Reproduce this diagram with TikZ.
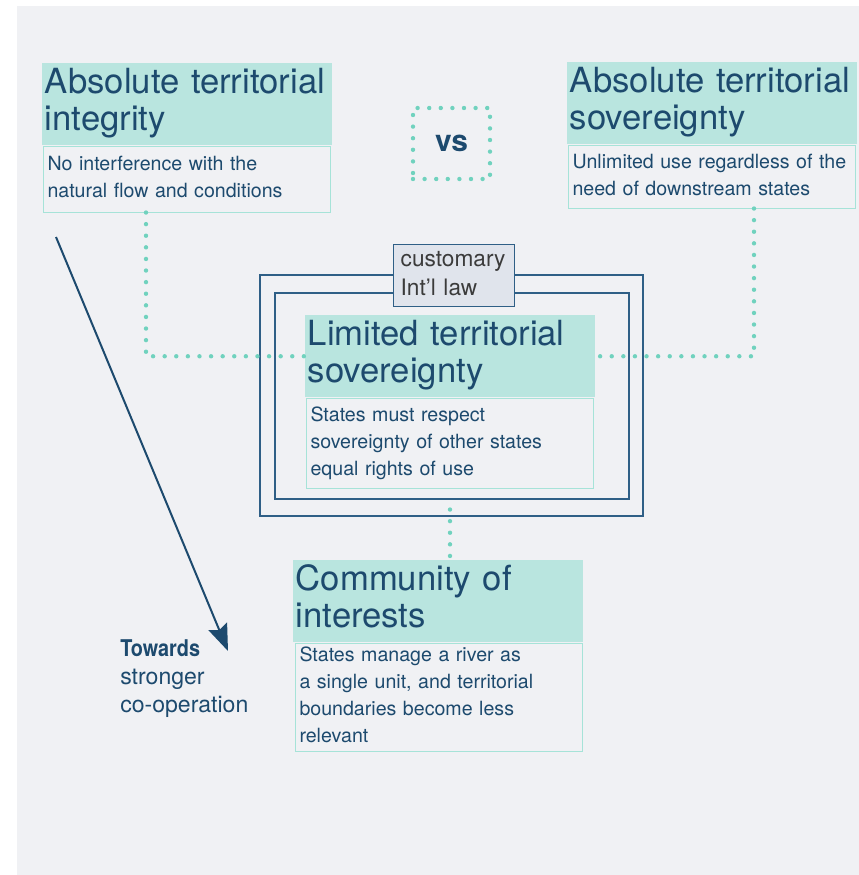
\documentclass[tikz,border=0pt]{standalone}
\usepackage{fontspec}
\setmainfont{TeX Gyre Heros}
\newfontfamily\heroscn[FakeStretch=0.86]{TeX Gyre Heros}
\usetikzlibrary{arrows.meta}

\definecolor{bgcol}{RGB}{240,241,244}
\definecolor{hdrfill}{RGB}{185,229,223}
\definecolor{bdyline}{RGB}{166,227,216}
\definecolor{dotcol}{RGB}{112,210,190}
\definecolor{navy}{RGB}{29,74,110}
\definecolor{frmcol}{RGB}{47,95,134}
\definecolor{lawfill}{RGB}{224,228,236}
\definecolor{lawtext}{RGB}{59,59,59}

\newcommand\hdrfont{\fontsize{26pt}{27.75pt}\selectfont}
\newcommand\bdyfont{\fontsize{14.7pt}{20.25pt}\selectfont}
\newcommand\lawfont{\fontsize{17pt}{21.75pt}\selectfont}
\newcommand\twdfont{\fontsize{17.3pt}{21pt}\selectfont}

\tikzset{
  hdr/.style={fill=hdrfill, text=navy, font=\hdrfont, align=left, anchor=north west,
    inner xsep=2pt, inner ysep=0pt, text width=213.5pt, minimum height=61.5pt,
    execute at begin node=\strut, execute at end node=\strut},
  bdy/.style={draw=bdyline, line width=0.75pt, text=navy, font=\bdyfont, align=left,
    anchor=north west, inner xsep=3pt, inner ysep=0pt, text width=209.25pt,
    execute at begin node=\strut, execute at end node=\strut},
  dots/.style={dotcol, line width=3.3pt, line cap=round, dash pattern=on 0pt off 8.7pt},
  frm/.style={draw=frmcol, line width=1pt},
}

\begin{document}
\begin{tikzpicture}[x=0.75pt,y=0.75pt,yscale=-1,xscale=1]
\useasboundingbox (0,0) rectangle (859,875);
%background
\fill[bgcol] (17,6) rectangle (859,875);

%frames round the middle box
\draw[frm] (260,275) rectangle (643,516);
\draw[frm] (275,293) rectangle (629,499);
\node[draw=frmcol, line width=1pt, fill=lawfill, text=lawtext, font=\lawfont, align=left,
  anchor=north west, inner xsep=5.25pt, inner ysep=0pt, text width=80.25pt,
  minimum height=46.5pt, execute at begin node=\strut, execute at end node=\strut]
  (law) at (393,244) {customary\\Int'l law};

%top left
\node[hdr] (aih) at (42,63) {Absolute territorial\\integrity};
\node[bdy, minimum height=49.5pt] (aib) at ([xshift=0.75pt]aih.south west)
  {No interference with the\\natural flow and conditions};

%top right
\node[hdr] (ash) at (567,62) {Absolute territorial\\sovereignty};
\node[bdy, minimum height=47.25pt] (asb) at ([xshift=0.75pt]ash.south west)
  {Unlimited use regardless of the\\need of downstream states};

%vs
\node[dots, draw, minimum width=57.75pt, minimum height=53.25pt, text=navy,
  font=\fontsize{22.5pt}{24pt}\selectfont\bfseries] (vs) at (451.5,143.5) {vs};

%middle
\node[hdr] (lth) at (305,315) {Limited territorial\\sovereignty};
\node[bdy, minimum height=67.5pt] (ltb) at ([xshift=0.75pt]lth.south west)
  {States must respect\\sovereignty of other states\\equal rights of use};

%bottom
\node[hdr] (cih) at (293,560) {Community of\\interests};
\node[bdy, minimum height=79.5pt] (cib) at ([xshift=1.5pt]cih.south west)
  {States manage a river as\\a single unit, and territorial\\boundaries become less\\relevant};

%dotted links
\draw[dots] ([xshift=77.25pt]aib.south west) |- (lth.west);
\draw[dots] ([xshift=139.5pt]asb.south west) |- (lth.east);
\draw[dots] ([yshift=15.75pt]ltb.south) -- (ltb.south |- cih.north);

%arrow
\coordinate (tail) at (56,237);
\coordinate (tip) at (228,651);
\draw[navy, line width=1.5pt, -{Stealth[length=20pt,width=15pt,inset=3pt]}] (tail) -- (tip);
\node[text=navy, font=\twdfont, align=left, anchor=north west, inner sep=0pt]
  (twd) at (120,639.5) {{\heroscn\bfseries Towards}\\stronger\\co-operation};

\end{tikzpicture}
\end{document}
